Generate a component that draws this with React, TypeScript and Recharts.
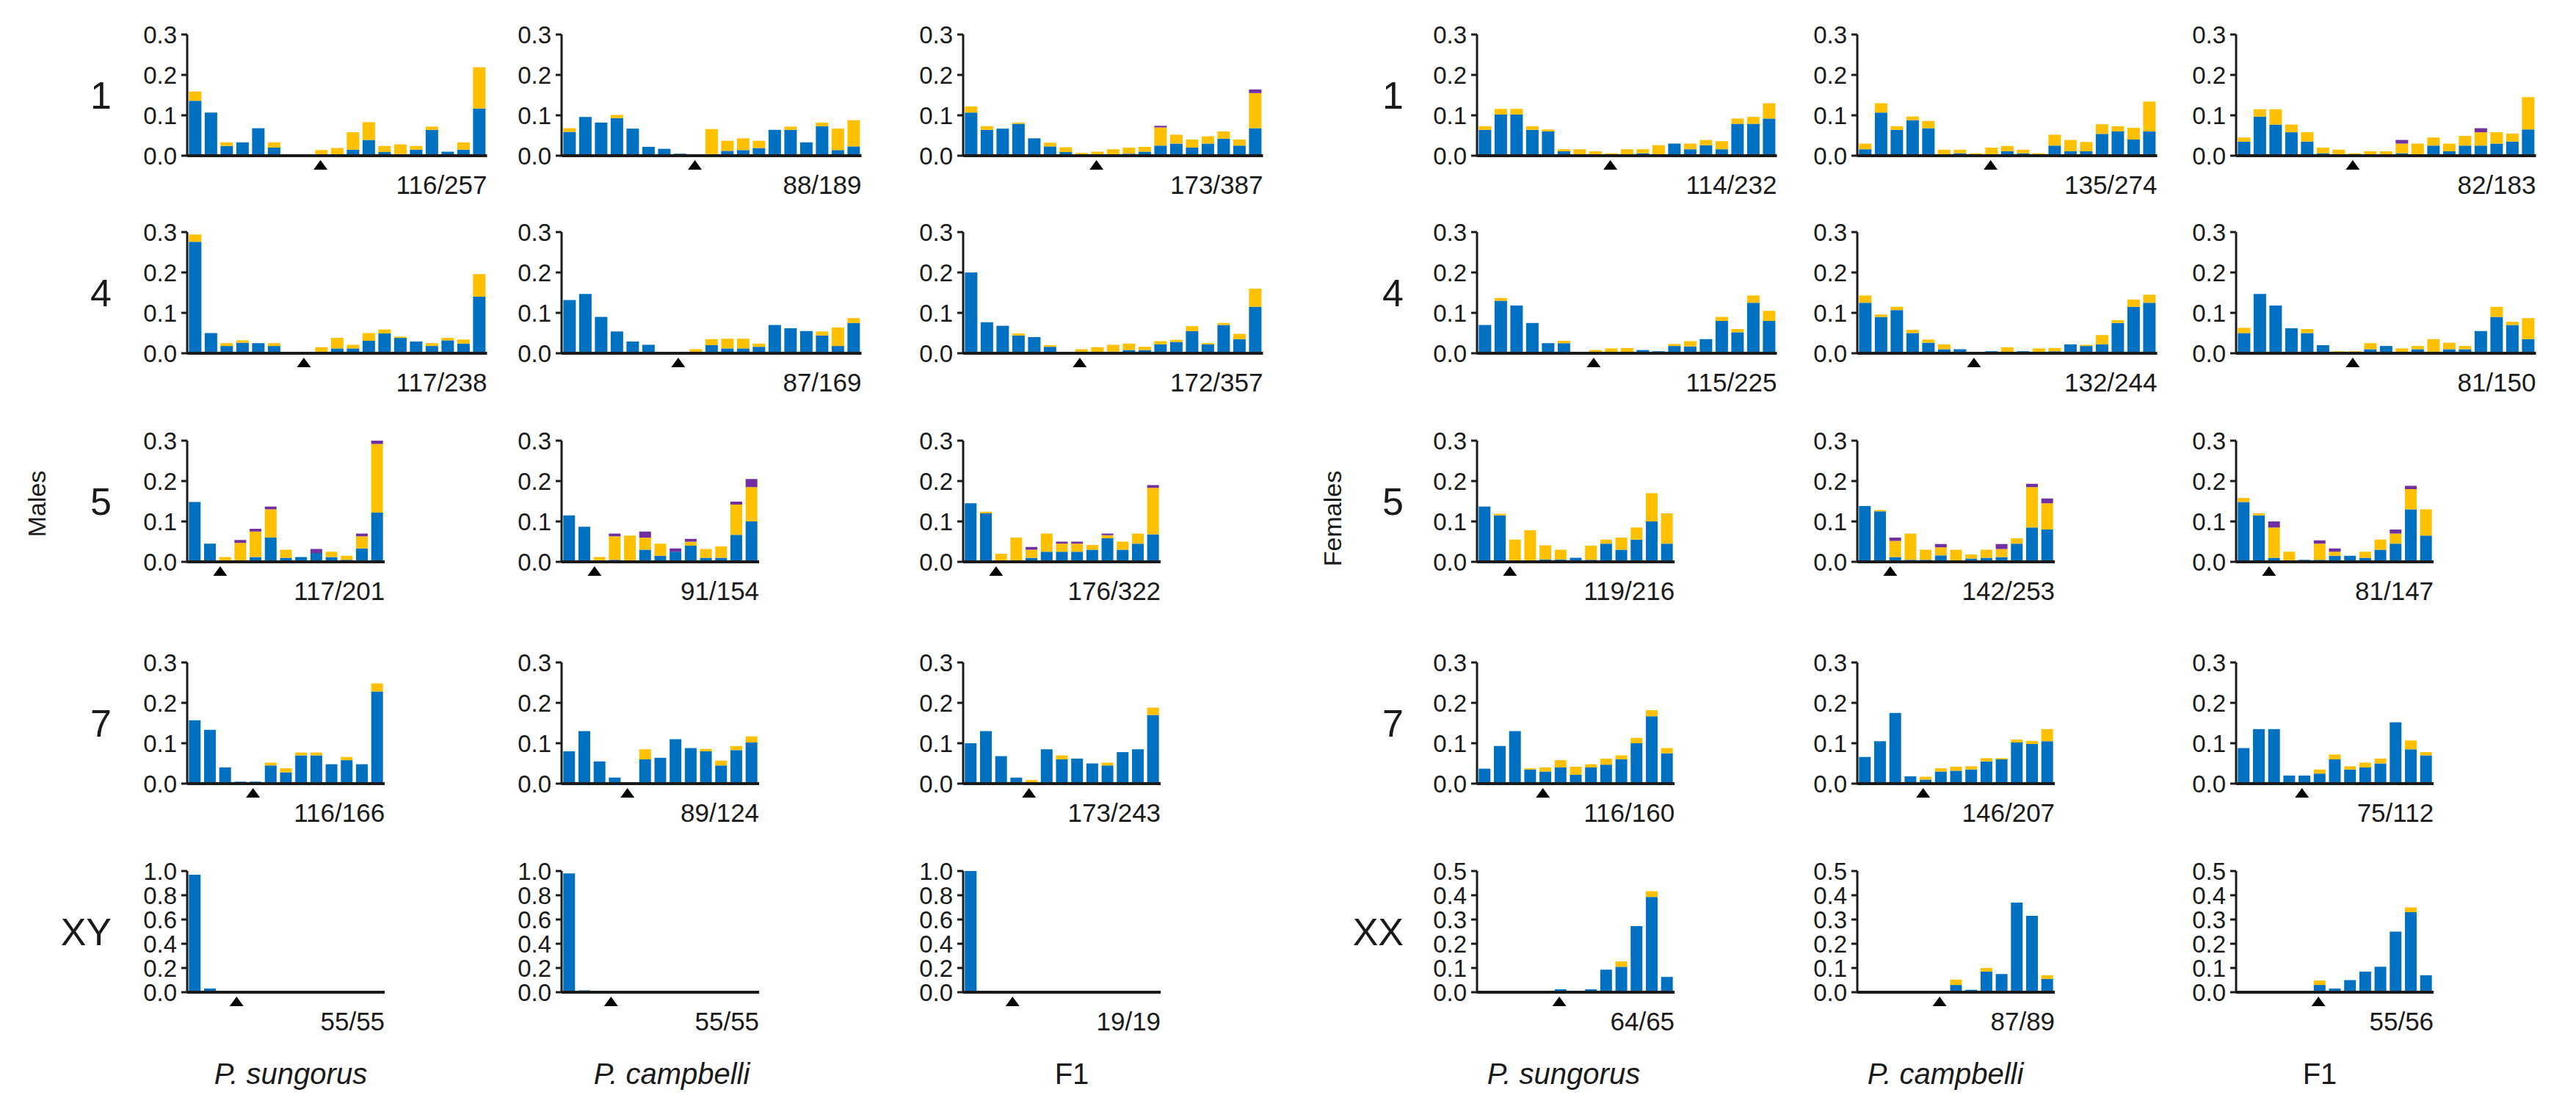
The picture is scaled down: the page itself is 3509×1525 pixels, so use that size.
import React from "react";
import { BarChart, Bar, XAxis, YAxis, ReferenceDot } from "recharts";

// each bar: [blue, yellow, purple]
// chromosome 1
const m1S = [[0.136,0.023,0],[0.107,0,0],[0.024,0.009,0],[0.033,0,0],[0.068,0,0],[0.02,0.013,0],[0,0.002,0],[0,0.002,0],[0.002,0.012,0],[0,0.019,0],[0.015,0.043,0],[0.039,0.044,0],[0.009,0.015,0],[0.004,0.024,0],[0.015,0.009,0],[0.064,0.008,0],[0.01,0,0],[0.015,0.018,0],[0.117,0.102,0]];
const m1C = [[0.059,0.009,0],[0.096,0,0],[0.082,0,0],[0.093,0.008,0],[0.067,0,0],[0.022,0,0],[0.017,0,0],[0.005,0,0],[0,0.003,0],[0.004,0.062,0],[0.012,0.025,0],[0.014,0.029,0],[0.019,0.018,0],[0.064,0,0],[0.064,0.008,0],[0.033,0,0],[0.073,0.009,0],[0.014,0.053,0],[0.023,0.065,0]];
const m1F = [[0.107,0.015,0],[0.064,0.009,0],[0.067,0,0],[0.079,0.003,0],[0.043,0,0],[0.023,0.009,0],[0.009,0.012,0],[0.003,0.004,0],[0,0.01,0],[0.003,0.013,0],[0.005,0.015,0],[0.01,0.012,0],[0.025,0.045,0.004],[0.03,0.022,0],[0.02,0.02,0],[0.03,0.018,0],[0.042,0.018,0],[0.025,0.015,0],[0.068,0.087,0.009]];
const f1S = [[0.064,0.009,0],[0.102,0.014,0],[0.102,0.014,0],[0.064,0.009,0],[0.06,0.005,0],[0.011,0.005,0],[0.003,0.013,0],[0.002,0.009,0],[0,0.006,0],[0.002,0.014,0],[0.006,0.01,0],[0,0.026,0],[0.03,0,0],[0.016,0.014,0],[0.026,0.013,0],[0.016,0.02,0],[0.079,0.013,0],[0.079,0.017,0],[0.092,0.038,0]];
const f1C = [[0.016,0.014,0],[0.107,0.023,0],[0.064,0.009,0],[0.088,0.009,0],[0.068,0.018,0],[0,0.015,0],[0.006,0.009,0],[0,0.006,0],[0,0.02,0],[0.011,0.013,0],[0.006,0.009,0],[0,0.006,0],[0.025,0.027,0],[0.011,0.028,0],[0.011,0.023,0],[0.054,0.024,0],[0.06,0.013,0],[0.04,0.029,0],[0.06,0.074,0]];
const f1F = [[0.035,0.01,0],[0.097,0.018,0],[0.077,0.038,0],[0.058,0.019,0],[0.035,0.023,0],[0.006,0.014,0],[0,0.015,0],[0,0.006,0],[0,0.011,0],[0,0.011,0],[0.006,0.024,0.009],[0.003,0.027,0],[0.025,0.02,0],[0.011,0.019,0],[0.025,0.024,0],[0.025,0.033,0.01],[0.03,0.028,0],[0.035,0.02,0],[0.065,0.08,0]];

// chromosome 4
const m4S = [[0.276,0.018,0],[0.05,0,0],[0.018,0.007,0],[0.026,0.006,0],[0.025,0,0],[0.018,0.007,0],[0,0,0],[0,0,0],[0.003,0.012,0],[0.012,0.026,0],[0.012,0.009,0],[0.031,0.019,0],[0.049,0.01,0],[0.038,0.003,0],[0.029,0,0],[0.018,0.007,0],[0.032,0.006,0],[0.024,0.01,0],[0.14,0.056,0]];
const m4C = [[0.132,0,0],[0.147,0,0],[0.09,0,0],[0.054,0,0],[0.029,0,0],[0.021,0,0],[0,0,0],[0,0,0],[0.002,0.008,0],[0.02,0.015,0],[0.012,0.024,0],[0.012,0.024,0],[0.016,0.008,0],[0.07,0,0],[0.062,0,0],[0.055,0,0],[0.044,0.01,0],[0.018,0.046,0],[0.075,0.012,0]];
const m4F = [[0.2,0,0],[0.077,0,0],[0.068,0,0],[0.044,0.005,0],[0.04,0,0],[0.016,0.004,0],[0,0,0],[0,0.01,0],[0,0.015,0],[0.004,0.017,0],[0.008,0.016,0],[0.008,0.008,0],[0.022,0.008,0],[0.028,0.005,0],[0.055,0.012,0],[0.022,0.003,0],[0.07,0.005,0],[0.035,0.013,0],[0.115,0.045,0]];
const f4S = [[0.07,0,0],[0.13,0.007,0],[0.118,0,0],[0.075,0,0],[0.025,0,0],[0.025,0.006,0],[0,0,0],[0,0.008,0],[0,0.012,0],[0,0.013,0],[0.008,0,0],[0.005,0,0],[0.018,0.005,0],[0.017,0.013,0],[0.035,0,0],[0.08,0.01,0],[0.052,0.008,0],[0.125,0.018,0],[0.08,0.025,0]];
const f4C = [[0.125,0.018,0],[0.09,0.006,0],[0.107,0.008,0],[0.05,0.008,0],[0.026,0.008,0],[0.01,0.012,0],[0.01,0,0],[0,0.003,0],[0.005,0,0],[0,0.015,0],[0.005,0,0],[0,0.012,0],[0.005,0.008,0],[0.022,0,0],[0.018,0.003,0],[0.022,0.023,0],[0.075,0.007,0],[0.115,0.018,0],[0.125,0.02,0]];
const f4F = [[0.05,0.013,0],[0.147,0,0],[0.118,0,0],[0.062,0,0],[0.05,0.01,0],[0.02,0,0],[0,0.005,0],[0,0.005,0],[0.01,0.015,0],[0.018,0,0],[0,0.012,0],[0.01,0.008,0],[0,0.035,0],[0.01,0.016,0],[0.01,0.008,0],[0.055,0,0],[0.09,0.025,0],[0.07,0.008,0],[0.035,0.052,0]];

// chromosome 5
const m5S = [[0.148,0,0],[0.045,0,0],[0,0.012,0],[0.002,0.045,0.007],[0.012,0.063,0.007],[0.06,0.07,0.007],[0.01,0.02,0],[0.012,0,0],[0.022,0,0.01],[0.012,0.013,0],[0.005,0.01,0],[0.033,0.03,0.007],[0.122,0.17,0.017]];
const m5C = [[0.115,0,0],[0.087,0,0],[0,0.012,0],[0.005,0.058,0.007],[0.002,0.063,0],[0.03,0.03,0.015],[0.015,0.03,0],[0.025,0,0.008],[0.04,0.01,0.007],[0.01,0.022,0],[0.01,0.028,0],[0.067,0.075,0.007],[0.1,0.085,0.02]];
const m5F = [[0.145,0,0],[0.12,0.004,0],[0,0.02,0],[0,0.06,0],[0.01,0.02,0.007],[0.025,0.045,0],[0.025,0.02,0.005],[0.025,0.02,0.005],[0.03,0.012,0],[0.058,0.008,0.004],[0.03,0.02,0],[0.045,0.025,0],[0.068,0.115,0.007]];
const f5S = [[0.137,0,0],[0.115,0.004,0],[0,0.055,0],[0,0.078,0],[0.006,0.035,0],[0.006,0.024,0],[0.01,0,0],[0.005,0.035,0],[0.045,0.01,0],[0.03,0.03,0],[0.055,0.03,0],[0.1,0.07,0],[0.045,0.075,0]];
const f5C = [[0.138,0,0],[0.125,0.003,0],[0.012,0.04,0.008],[0.005,0.065,0],[0.005,0.025,0],[0.016,0.02,0.008],[0,0.03,0],[0.008,0.01,0],[0.01,0.02,0],[0.012,0.02,0.012],[0.045,0.013,0],[0.085,0.1,0.008],[0.08,0.065,0.012]];
const f5F = [[0.148,0.01,0],[0.115,0.005,0],[0.01,0.075,0.015],[0,0.025,0],[0.005,0,0],[0.005,0.04,0.008],[0.015,0.01,0.008],[0.015,0,0],[0.01,0.015,0],[0.03,0.025,0],[0.045,0.025,0.01],[0.13,0.05,0.008],[0.065,0.065,0]];

// chromosome 7
const m7S = [[0.157,0,0],[0.133,0,0],[0.04,0,0],[0.005,0,0],[0.005,0,0],[0.045,0.007,0],[0.028,0.01,0],[0.07,0.007,0],[0.07,0.007,0],[0.048,0,0],[0.058,0.008,0],[0.048,0,0],[0.228,0.02,0]];
const m7C = [[0.08,0,0],[0.13,0,0],[0.055,0,0],[0.015,0,0],[0,0,0],[0.06,0.025,0],[0.064,0,0],[0.11,0,0],[0.088,0,0],[0.08,0.006,0],[0.045,0.012,0],[0.083,0.01,0],[0.102,0.015,0]];
const m7F = [[0.1,0,0],[0.13,0,0],[0.068,0,0],[0.015,0,0],[0.003,0.006,0],[0.085,0,0],[0.06,0.01,0],[0.062,0,0],[0.05,0,0],[0.045,0.007,0],[0.078,0,0],[0.085,0,0],[0.17,0.018,0]];
const f7S = [[0.037,0,0],[0.093,0,0],[0.13,0,0],[0.035,0.003,0],[0.03,0.01,0],[0.04,0.018,0],[0.022,0.02,0],[0.04,0.008,0],[0.047,0.015,0],[0.06,0.01,0],[0.1,0.013,0],[0.167,0.015,0],[0.075,0.013,0]];
const f7C = [[0.066,0,0],[0.105,0,0],[0.175,0,0],[0.018,0,0],[0.01,0.007,0],[0.03,0.008,0],[0.032,0.01,0],[0.035,0.008,0],[0.055,0.008,0],[0.06,0.003,0],[0.102,0.007,0],[0.098,0.008,0],[0.105,0.03,0]];
const f7F = [[0.088,0,0],[0.135,0,0],[0.135,0,0],[0.02,0,0],[0.02,0,0],[0.025,0.01,0],[0.06,0.012,0],[0.035,0.008,0],[0.04,0.012,0],[0.05,0.012,0],[0.152,0,0],[0.085,0.022,0],[0.07,0.008,0]];

// sex chromosomes
const mXYS = [[0.97,0,0],[0.03,0,0],[0,0,0],[0,0,0],[0,0,0],[0,0,0],[0,0,0],[0,0,0],[0,0,0],[0,0,0],[0,0,0],[0,0,0],[0,0,0]];
const mXYC = [[0.98,0,0],[0.015,0,0],[0,0,0],[0,0,0],[0,0,0],[0,0,0],[0,0,0],[0,0,0],[0,0,0],[0,0,0],[0,0,0],[0,0,0],[0,0,0]];
const mXYF = [[1.0,0,0],[0,0,0],[0,0,0],[0,0,0],[0,0,0],[0,0,0],[0,0,0],[0,0,0],[0,0,0],[0,0,0],[0,0,0],[0,0,0],[0,0,0]];
const fXXS = [[0,0,0],[0,0,0],[0,0,0],[0,0,0],[0,0,0],[0.012,0,0],[0,0,0],[0.012,0,0],[0.093,0,0],[0.105,0.022,0],[0.273,0,0],[0.393,0.024,0],[0.063,0,0]];
const fXXC = [[0,0,0],[0,0,0],[0,0,0],[0,0,0],[0,0,0],[0,0,0],[0.03,0.022,0],[0.01,0,0],[0.085,0.015,0],[0.075,0,0],[0.37,0,0],[0.315,0,0],[0.055,0.015,0]];
const fXXF = [[0,0,0],[0,0,0],[0,0,0],[0,0,0],[0,0,0],[0.03,0.018,0],[0.015,0,0],[0.05,0,0],[0.085,0,0],[0.105,0,0],[0.25,0,0],[0.33,0.02,0],[0.07,0,0]];

const maleRows = [[m1S, m1C, m1F], [m4S, m4C, m4F], [m5S, m5C, m5F], [m7S, m7C, m7F], [mXYS, mXYC, mXYF]];
const femaleRows = [[f1S, f1C, f1F], [f4S, f4C, f4F], [f5S, f5C, f5F], [f7S, f7C, f7F], [fXXS, fXXC, fXXF]];

const maleCounts = [
  ["116/257", "88/189", "173/387"],
  ["117/238", "87/169", "172/357"],
  ["117/201", "91/154", "176/322"],
  ["116/166", "89/124", "173/243"],
  ["55/55", "55/55", "19/19"],
];
const femaleCounts = [
  ["114/232", "135/274", "82/183"],
  ["115/225", "132/244", "81/150"],
  ["119/216", "142/253", "81/147"],
  ["116/160", "146/207", "75/112"],
  ["64/65", "87/89", "55/56"],
];

// triangle position (bin boundary)
const maleMarkers = [[8, 8, 8], [7, 7, 7], [2, 2, 2], [4, 4, 4], [3, 3, 3]];
const femaleMarkers = [[8, 8, 7], [7, 7, 7], [2, 2, 2], [4, 4, 4], [5, 5, 5]];

const maleChroms = ["1", "4", "5", "7", "XY"];
const femaleChroms = ["1", "4", "5", "7", "XX"];
const species = ["P. sungorus", "P. campbelli", "F1"];

const ticksAuto = [0, 0.1, 0.2, 0.3];
const ticksXY = [0, 0.2, 0.4, 0.6, 0.8, 1.0];
const ticksXX = [0, 0.1, 0.2, 0.3, 0.4, 0.5];

const BLUE = "#0070C0";
const YELLOW = "#FFC000";
const PURPLE = "#7030A0";
const INK = "#1a1a1a";
const FONT = '"Liberation Sans", Arial, sans-serif';
const NARROW = '"Liberation Sans Narrow", "Liberation Sans", Arial, sans-serif';

// layout
const maleCols = [255, 765, 1312];
const femaleCols = [2012, 2530, 3046];
const rowTops = [47, 316, 600, 902, 1186];
const rowSlots = [21.5, 21.5, 20.7, 20.7, 20.7];
const PLOT_H = 165;
const PAD_L = 100;
const PAD_T = 22;
const PAD_R = 8;
const PAD_B = 40;

function Triangle(props: any) {
  const { cx, cy } = props;
  if (cx == null || cy == null) return null;
  return <path d={`M${cx},${cy + 6} L${cx + 9.5},${cy + 19} L${cx - 9.5},${cy + 19} Z`} fill="#000" />;
}

function Panel({ left, top, slot, rows, yTicks, marker, count }: any) {
  const data = rows.map((r: number[], i: number) => ({ bin: i, blue: r[0], yellow: r[1], purple: r[2] }));
  const n = rows.length;
  const plotW = n * slot;
  const W = PAD_L + plotW + PAD_R;
  const H = PAD_T + PLOT_H + PAD_B;
  const bounds = Array.from({ length: n + 1 }, (_, k) => k);
  const yMax = yTicks[yTicks.length - 1];
  return (
    <div style={{ position: "absolute", left: left - PAD_L, top: top - PAD_T, width: W, height: H }}>
      <BarChart width={W} height={H} data={data} margin={{ top: PAD_T, right: PAD_R, left: 0, bottom: 0 }} barCategoryGap="11%">
        <XAxis dataKey="bin" hide height={0} />
        <XAxis
          xAxisId="b"
          type="number"
          domain={[0, n]}
          allowDataOverflow
          ticks={bounds}
          tick={false}
          tickSize={6}
          height={PAD_B}
          axisLine={{ stroke: INK, strokeWidth: 4 }}
          tickLine={{ stroke: INK, strokeWidth: 2.5 }}
        />
        <YAxis
          width={PAD_L}
          domain={[0, yMax]}
          ticks={yTicks}
          interval={0}
          allowDataOverflow
          tickFormatter={(v: number) => v.toFixed(1)}
          tick={{ fontSize: 33, fill: INK, fontFamily: NARROW }}
          tickSize={8}
          tickMargin={6}
          axisLine={{ stroke: INK, strokeWidth: 3 }}
          tickLine={{ stroke: INK, strokeWidth: 3 }}
        />
        <Bar dataKey="blue" stackId="s" fill={BLUE} isAnimationActive={false} />
        <Bar dataKey="yellow" stackId="s" fill={YELLOW} isAnimationActive={false} />
        <Bar dataKey="purple" stackId="s" fill={PURPLE} isAnimationActive={false} />
        <ReferenceDot xAxisId="b" x={marker} y={0} shape={Triangle} ifOverflow="visible" />
      </BarChart>
      <div
        style={{
          position: "absolute",
          right: PAD_R,
          top: PAD_T + PLOT_H + 39,
          transform: "translateY(-50%)",
          fontSize: 35,
          lineHeight: 1,
          color: INK,
          whiteSpace: "nowrap",
        }}
      >
        {count}
      </div>
    </div>
  );
}

function tickSet(row: number, female: boolean) {
  if (row < 4) return ticksAuto;
  return female ? ticksXX : ticksXY;
}

export default function App() {
  const panels: React.ReactNode[] = [];
  rowTops.forEach((top, r) => {
    maleCols.forEach((x, c) => {
      panels.push(
        <Panel key={`m${r}${c}`} left={x} top={top} slot={rowSlots[r]} rows={maleRows[r][c]}
          yTicks={tickSet(r, false)} marker={maleMarkers[r][c]} count={maleCounts[r][c]} />
      );
    });
    femaleCols.forEach((x, c) => {
      panels.push(
        <Panel key={`f${r}${c}`} left={x} top={top} slot={rowSlots[r]} rows={femaleRows[r][c]}
          yTicks={tickSet(r, true)} marker={femaleMarkers[r][c]} count={femaleCounts[r][c]} />
      );
    });
  });

  const speciesMale = [396, 915, 1460];
  const speciesFemale = [2130, 2650, 3160];

  return (
    <div style={{ position: "absolute", left: 0, top: 0, width: 3509, height: 1525, background: "#fff", fontFamily: FONT, color: INK, overflow: "hidden" }}>
      {panels}
      {rowTops.map((top, r) => (
        <React.Fragment key={`lab${r}`}>
          <div style={{ position: "absolute", left: 0, width: 152, textAlign: "right", top: top + PLOT_H / 2, transform: "translateY(-50%)", fontSize: 52, lineHeight: 1 }}>
            {maleChroms[r]}
          </div>
          <div style={{ position: "absolute", left: 1700, width: 212, textAlign: "right", top: top + PLOT_H / 2, transform: "translateY(-50%)", fontSize: 52, lineHeight: 1 }}>
            {femaleChroms[r]}
          </div>
        </React.Fragment>
      ))}
      <div style={{ position: "absolute", left: 50, top: 686, transform: "translate(-50%, -50%) rotate(-90deg)", fontSize: 34, lineHeight: 1 }}>
        Males
      </div>
      <div style={{ position: "absolute", left: 1815, top: 706, transform: "translate(-50%, -50%) rotate(-90deg)", fontSize: 34, lineHeight: 1 }}>
        Females
      </div>
      {species.map((s, i) => (
        <React.Fragment key={s}>
          <div style={{ position: "absolute", left: speciesMale[i], top: 1462, transform: "translate(-50%, -50%)", fontSize: 40, lineHeight: 1, fontStyle: i < 2 ? "italic" : "normal", whiteSpace: "nowrap" }}>
            {s}
          </div>
          <div style={{ position: "absolute", left: speciesFemale[i], top: 1462, transform: "translate(-50%, -50%)", fontSize: 40, lineHeight: 1, fontStyle: i < 2 ? "italic" : "normal", whiteSpace: "nowrap" }}>
            {s}
          </div>
        </React.Fragment>
      ))}
    </div>
  );
}
